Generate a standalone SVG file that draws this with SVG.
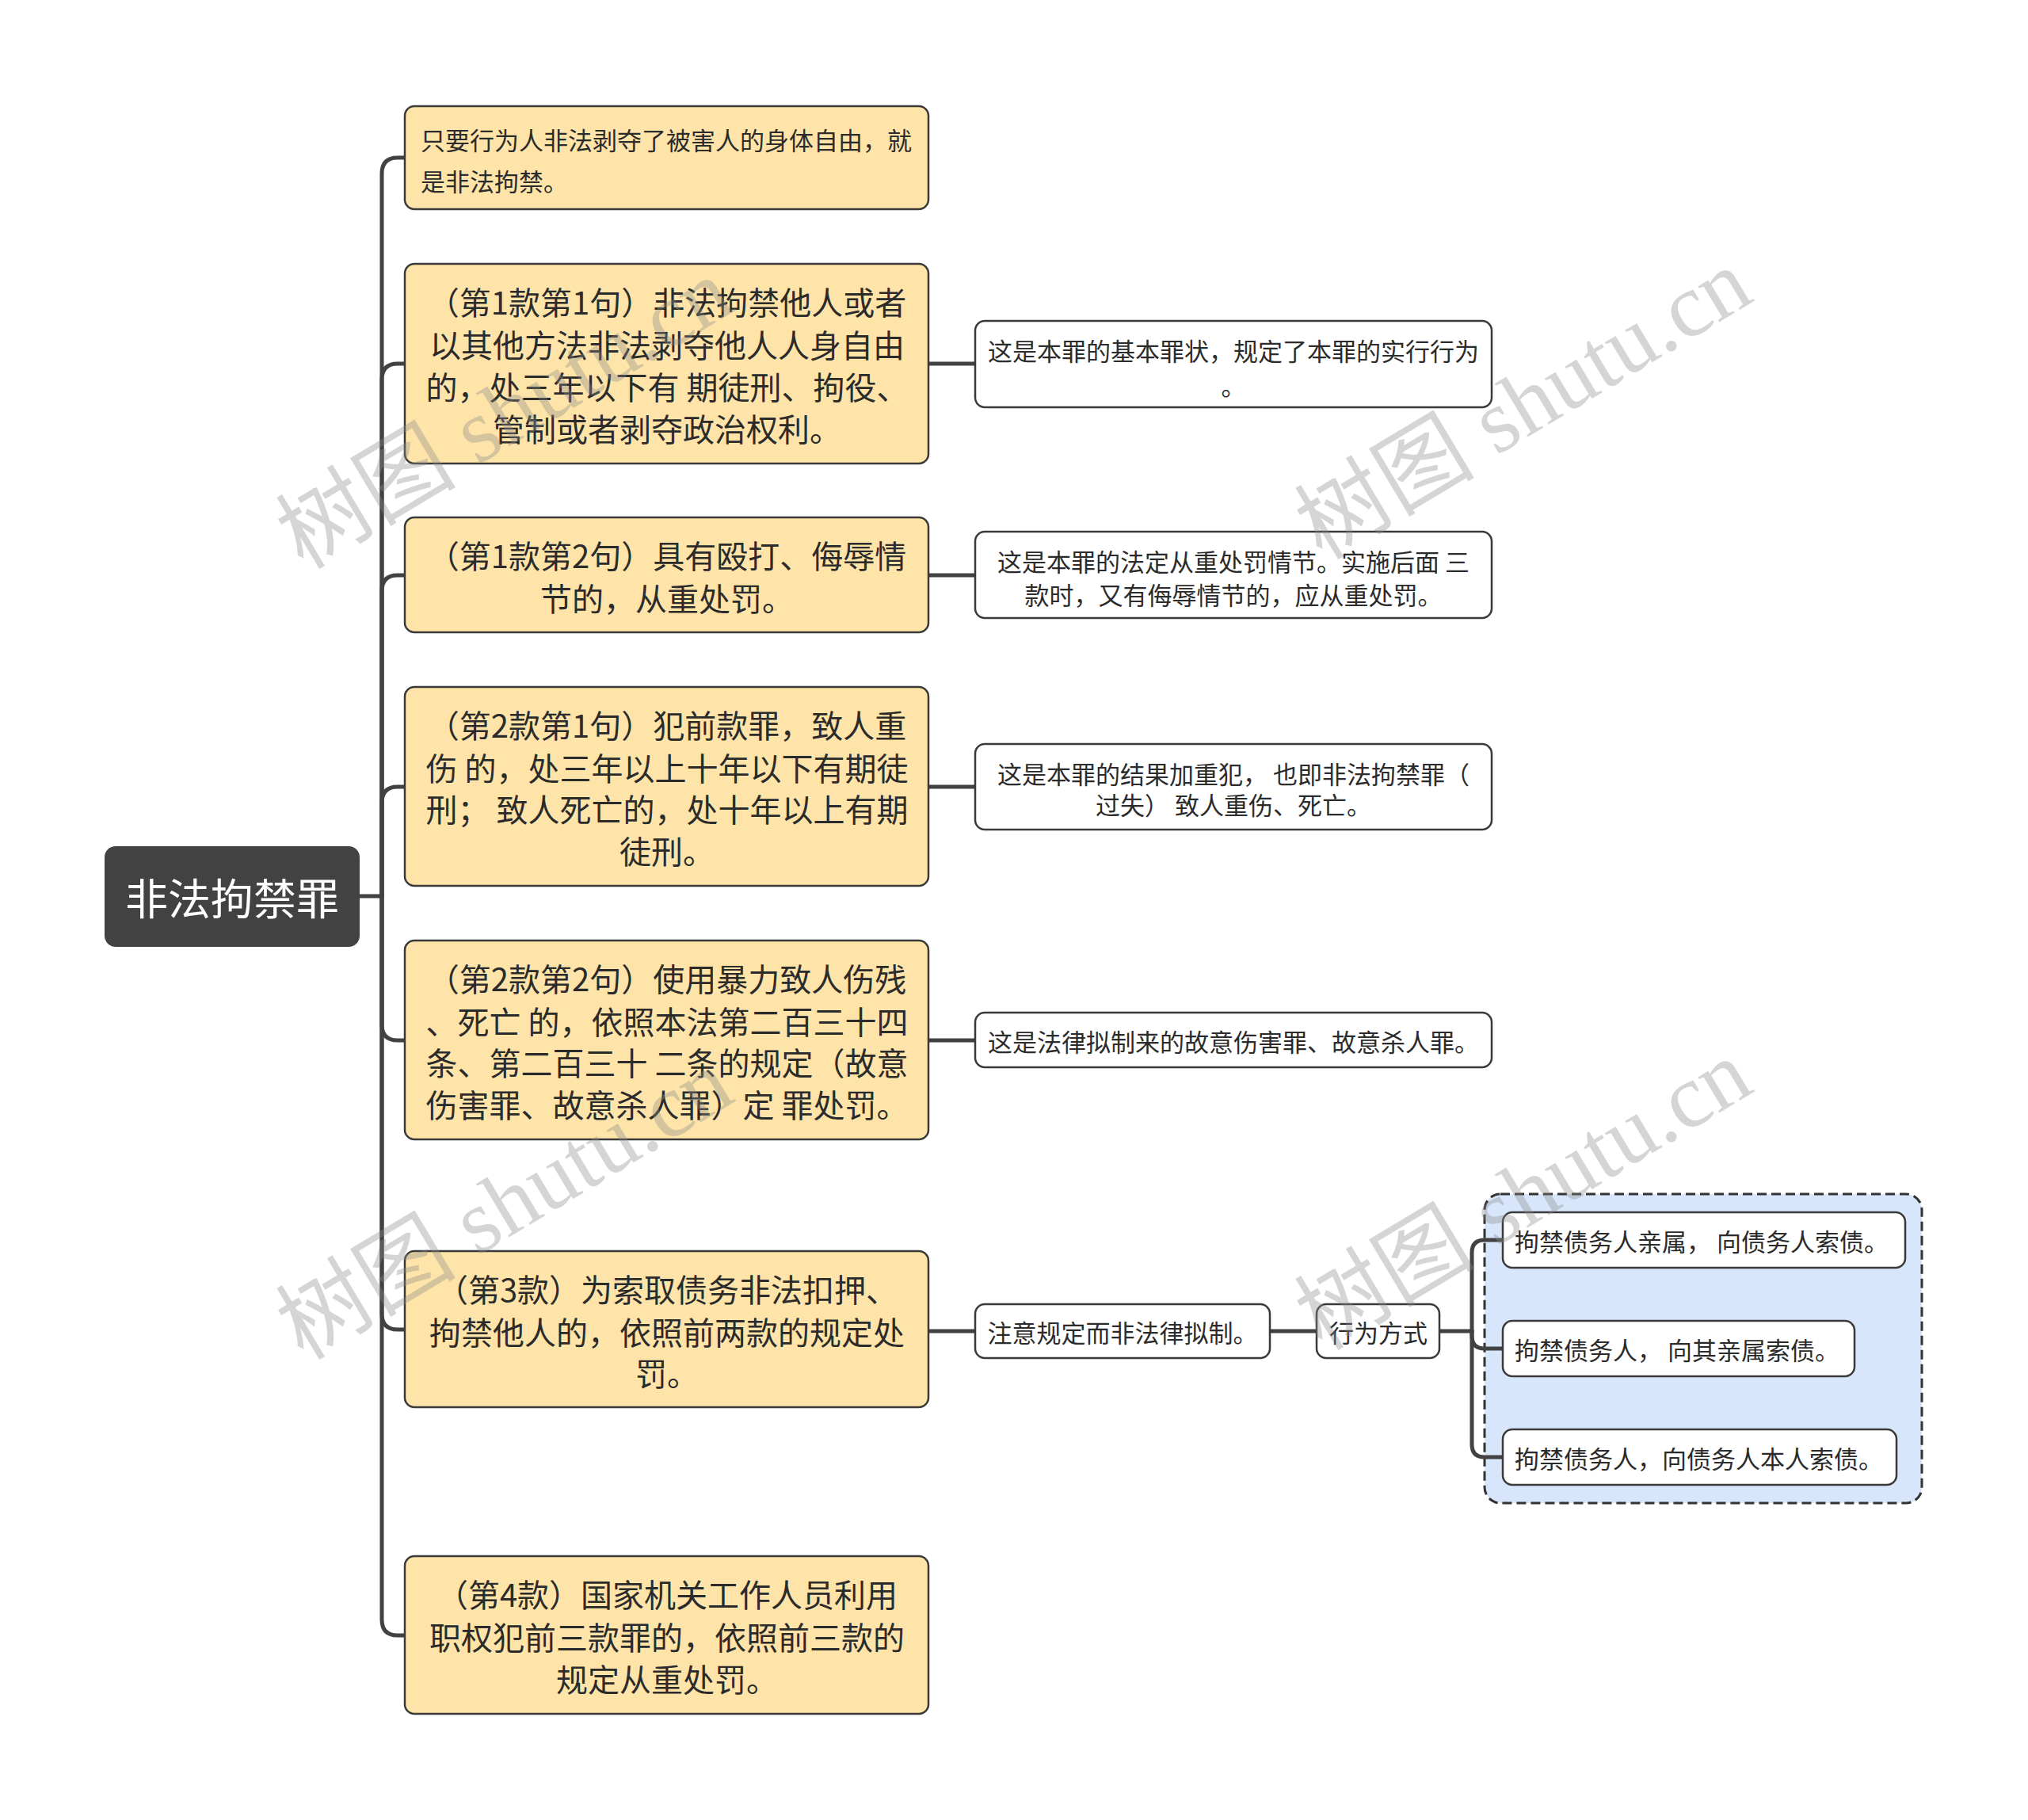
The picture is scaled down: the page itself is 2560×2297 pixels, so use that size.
<svg xmlns="http://www.w3.org/2000/svg" width="2560" height="2297" viewBox="0 0 2560 2297">
<style>
.y{fill:#fee4a8;stroke:#3a3a3a;stroke-width:2.5}
.w{fill:#ffffff;stroke:#3a3a3a;stroke-width:2.5}
.t{font-family:"Noto Sans CJK SC","Noto Sans",sans-serif;fill:#2b2b2b;dominant-baseline:central}
.big{font-size:40px;text-anchor:middle}
.sm{font-size:31px;text-anchor:middle}
.c{fill:none;stroke:#424242;stroke-width:5;stroke-linecap:round}
.wm{font-family:"Liberation Serif","Noto Sans CJK SC",serif;font-size:114px;fill:#8a8a8a;fill-opacity:0.36;text-anchor:middle;dominant-baseline:central}
</style>
<rect width="2560" height="2297" fill="#ffffff"/>
<g id="connectors">
<path class="c" d="M454,1131 L482,1131"/>
<path class="c" d="M482,1131 L482,219 Q482,199 502,199 L511,199"/>
<path class="c" d="M482,1131 L482,479 Q482,459 502,459 L511,459"/>
<path class="c" d="M482,1131 L482,746 Q482,726 502,726 L511,726"/>
<path class="c" d="M482,1131 L482,1013 Q482,993 502,993 L511,993"/>
<path class="c" d="M482,1131 L482,1293 Q482,1313 502,1313 L511,1313"/>
<path class="c" d="M482,1131 L482,1658 Q482,1678 502,1678 L511,1678"/>
<path class="c" d="M482,1131 L482,2044 Q482,2064 502,2064 L511,2064"/>
<path class="c" d="M1172,459 L1231,459"/>
<path class="c" d="M1172,726 L1231,726"/>
<path class="c" d="M1172,993 L1231,993"/>
<path class="c" d="M1172,1313 L1231,1313"/>
<path class="c" d="M1172,1680 L1231,1680"/>
<path class="c" d="M1603,1680 L1662,1680"/>
<path class="c" d="M1817,1680 L1858,1680"/>
</g>
<g id="group-box">
<rect x="1874" y="1507" width="552" height="390" rx="20" fill="#d8e6fb" stroke="#333333" stroke-width="3" stroke-dasharray="12 6"/>
</g>
<g id="connectors-group">
<path class="c" d="M1858,1680 L1858,1581 Q1858,1565 1874,1565 L1897,1565"/>
<path class="c" d="M1858,1680 L1858,1686 Q1858,1702 1874,1702 L1897,1702"/>
<path class="c" d="M1858,1680 L1858,1823 Q1858,1839 1874,1839 L1897,1839"/>
</g>
<g id="root">
<rect x="132" y="1068" width="322" height="127" rx="14" fill="#424242"/>
<text class="t" x="293" y="1131" font-size="54" text-anchor="middle" style="fill:#ffffff">非法拘禁罪</text>
</g>
<g id="n1">
<rect class="y" x="511" y="134" width="661" height="130" rx="12"/>
<text class="t" x="531" y="175" font-size="31">只要行为人非法剥夺了被害人的身体自由，就</text>
<text class="t" x="531" y="227" font-size="31">是非法拘禁。</text>
</g>
<g id="n2">
<rect class="y" x="511" y="333" width="661" height="252" rx="12"/>
<text class="t big" x="842" y="380">（第1款第1句）非法拘禁他人或者</text>
<text class="t big" x="842" y="434">以其他方法非法剥夺他人人身自由</text>
<text class="t big" x="842" y="487">的，处三年以下有 期徒刑、拘役、</text>
<text class="t big" x="842" y="540">管制或者剥夺政治权利。</text>
</g>
<g id="n3">
<rect class="y" x="511" y="653" width="661" height="145" rx="12"/>
<text class="t big" x="842" y="700">（第1款第2句）具有殴打、侮辱情</text>
<text class="t big" x="842" y="754">节的，从重处罚。</text>
</g>
<g id="n4">
<rect class="y" x="511" y="867" width="661" height="251" rx="12"/>
<text class="t big" x="842" y="914">（第2款第1句）犯前款罪，致人重</text>
<text class="t big" x="842" y="968">伤 的，处三年以上十年以下有期徒</text>
<text class="t big" x="842" y="1020">刑； 致人死亡的，处十年以上有期</text>
<text class="t big" x="842" y="1073">徒刑。</text>
</g>
<g id="n5">
<rect class="y" x="511" y="1187" width="661" height="251" rx="12"/>
<text class="t big" x="842" y="1234">（第2款第2句）使用暴力致人伤残</text>
<text class="t big" x="842" y="1288">、死亡 的，依照本法第二百三十四</text>
<text class="t big" x="842" y="1340">条、第二百三十 二条的规定（故意</text>
<text class="t big" x="842" y="1393">伤害罪、故意杀人罪）定 罪处罚。</text>
</g>
<g id="n6">
<rect class="y" x="511" y="1579" width="661" height="197" rx="12"/>
<text class="t big" x="842" y="1626">（第3款）为索取债务非法扣押、</text>
<text class="t big" x="842" y="1680">拘禁他人的，依照前两款的规定处</text>
<text class="t big" x="842" y="1732">罚。</text>
</g>
<g id="n7">
<rect class="y" x="511" y="1964" width="661" height="199" rx="12"/>
<text class="t big" x="842" y="2011">（第4款）国家机关工作人员利用</text>
<text class="t big" x="842" y="2065">职权犯前三款罪的，依照前三款的</text>
<text class="t big" x="842" y="2118">规定从重处罚。</text>
</g>
<g id="a">
<rect class="w" x="1231" y="405" width="652" height="109" rx="12"/>
<text class="t sm" x="1557" y="441">这是本罪的基本罪状，规定了本罪的实行行为</text>
<text class="t sm" x="1557" y="485">。</text>
</g>
<g id="b">
<rect class="w" x="1231" y="671" width="652" height="109" rx="12"/>
<text class="t sm" x="1557" y="707">这是本罪的法定从重处罚情节。实施后面 三</text>
<text class="t sm" x="1557" y="749">款时，又有侮辱情节的，应从重处罚。</text>
</g>
<g id="c">
<rect class="w" x="1231" y="939" width="652" height="108" rx="12"/>
<text class="t sm" x="1557" y="975">这是本罪的结果加重犯， 也即非法拘禁罪（</text>
<text class="t sm" x="1557" y="1014">过失） 致人重伤、死亡。</text>
</g>
<g id="d">
<rect class="w" x="1231" y="1278" width="652" height="69" rx="12"/>
<text class="t sm" x="1557" y="1313">这是法律拟制来的故意伤害罪、故意杀人罪。</text>
</g>
<g id="e">
<rect class="w" x="1231" y="1646" width="372" height="68" rx="12"/>
<text class="t sm" x="1417" y="1680">注意规定而非法律拟制。</text>
</g>
<g id="f">
<rect class="w" x="1662" y="1646" width="155" height="68" rx="12"/>
<text class="t sm" x="1740" y="1680">行为方式</text>
</g>
<g id="g1">
<rect class="w" x="1897" y="1530" width="508" height="70" rx="12"/>
<text class="t" x="1912" y="1565" font-size="31">拘禁债务人亲属， 向债务人索债。</text>
</g>
<g id="g2">
<rect class="w" x="1897" y="1667" width="444" height="70" rx="12"/>
<text class="t" x="1912" y="1702" font-size="31">拘禁债务人， 向其亲属索债。</text>
</g>
<g id="g3">
<rect class="w" x="1897" y="1804" width="497" height="70" rx="12"/>
<text class="t" x="1912" y="1839" font-size="31">拘禁债务人，向债务人本人索债。</text>
</g>
<g id="watermarks">
<text class="wm" transform="translate(637,522) rotate(-31)">树图 shutu.cn</text>
<text class="wm" transform="translate(1923,510) rotate(-31)">树图 shutu.cn</text>
<text class="wm" transform="translate(637,1520) rotate(-31)">树图 shutu.cn</text>
<text class="wm" transform="translate(1923,1508) rotate(-31)">树图 shutu.cn</text>
</g>
</svg>
